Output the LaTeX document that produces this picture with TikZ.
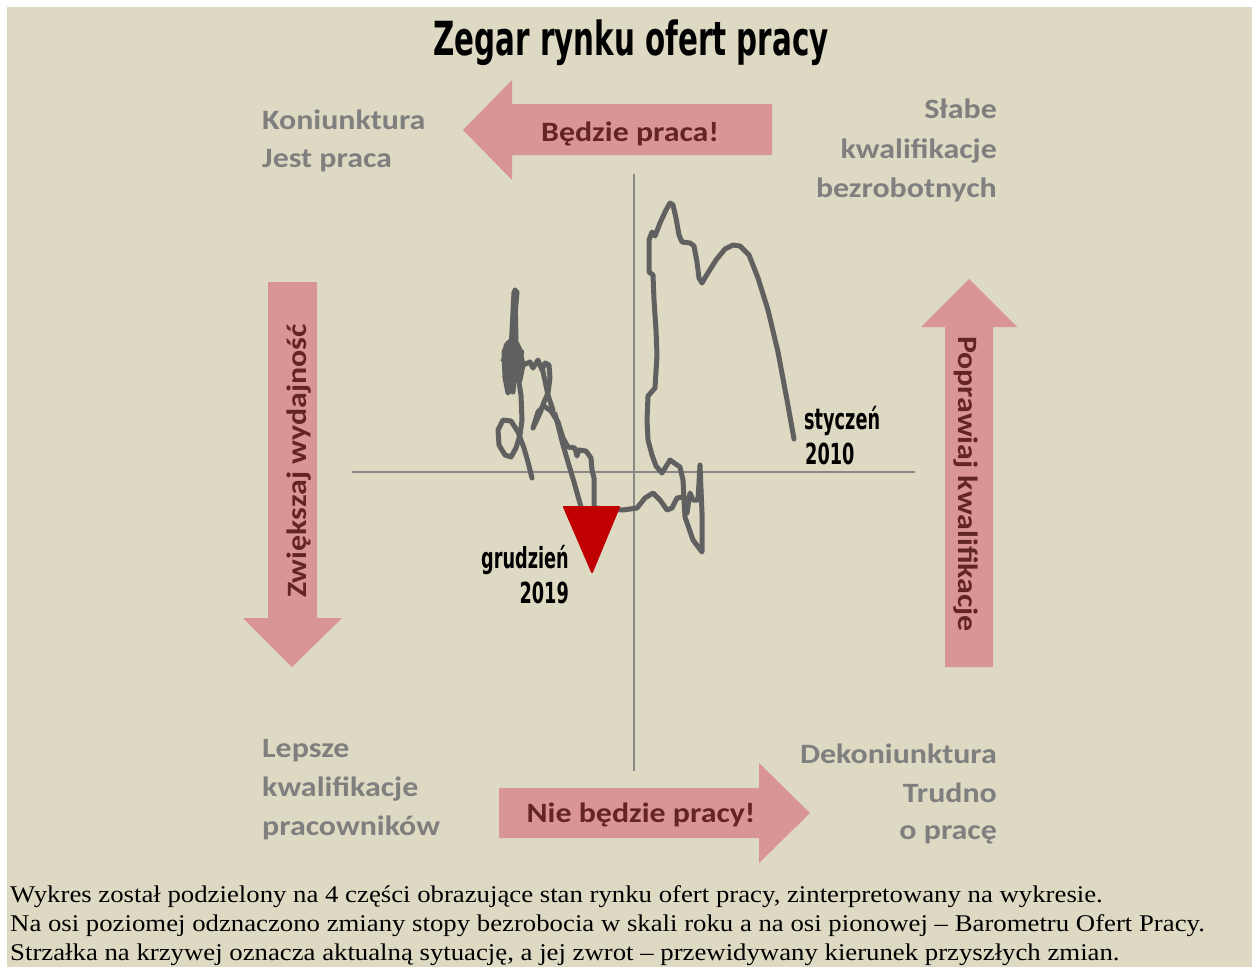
\documentclass[tikz,border=0pt]{standalone}
\usepackage{fontspec}
\setmainfont{Liberation Serif}[FakeStretch=1.115]
\newfontfamily\labelfont{Carlito}[FakeStretch=1.14]
\newfontfamily\condfont{DejaVu Sans}[FakeStretch=0.61]
\newfontfamily\titlefont{DejaVu Sans}[FakeStretch=0.625]
\definecolor{bgbeige}{HTML}{DDD9C3}
\definecolor{pinkarr}{HTML}{D99594}
\definecolor{arrtext}{HTML}{632523}
\definecolor{labgray}{HTML}{7F7F7F}
\definecolor{curvegray}{HTML}{606060}
\definecolor{axisgray}{HTML}{888888}
\definecolor{markred}{HTML}{C00000}
\tikzset{
  lab/.style={font=\labelfont\bfseries\fontsize{28}{34}\selectfont, text=labgray, inner sep=0pt},
  arrtxt/.style={font=\labelfont\bfseries\fontsize{28}{34}\selectfont, text=arrtext, inner sep=0pt},
  cond/.style={font=\condfont\bfseries\fontsize{29}{34}\selectfont, text=black, inner sep=0pt},
  titlestyle/.style={font=\titlefont\bfseries\fontsize{47}{50}\selectfont, text=black, inner sep=0pt},
  captxt/.style={font=\fontsize{24}{29}\selectfont, text=black, inner sep=0pt, anchor=base west},
  arrowfill/.style={fill=pinkarr, draw=none},
  curve/.style={draw=curvegray, line width=5pt, line join=round, line cap=round},
  axisline/.style={draw=axisgray, line width=1.5pt}
}
\begin{document}
\begin{tikzpicture}[x=1pt,y=-1pt]
\useasboundingbox (0,0) rectangle (1252,967);
\fill[white] (0,0) rectangle (1252,967);
\fill[bgbeige] (7,7) rectangle (1252,967);

% title
\node[titlestyle, anchor=base] (title) at (631,55) {Zegar rynku ofert pracy};

% axes
\coordinate (hl) at (352,472);
\coordinate (hr) at (915,472);
\coordinate (vt) at (634,174);
\coordinate (vb) at (634,771);
\draw[axisline] (hl) -- (hr);
\draw[axisline] (vt) -- (vb);

% arrows
\fill[arrowfill] (772,104) -- (512,104) -- (512,80) -- (463,130) -- (512,180) -- (512,155) -- (772,155) -- cycle;
\node[arrtxt, anchor=base] (t1) at (630,141) {Będzie praca!};
\fill[arrowfill] (499,788) -- (759,788) -- (759,763) -- (810,813) -- (759,863) -- (759,838) -- (499,838) -- cycle;
\node[arrtxt, anchor=base] (t2) at (641,822) {Nie będzie pracy!};
\fill[arrowfill] (268,282) -- (317,282) -- (317,618) -- (342,618) -- (292,667) -- (243,618) -- (268,618) -- cycle;
\node[arrtxt, anchor=base, rotate=90] (t3) at (306,461) {Zwiększaj wydajność};
\fill[arrowfill] (945,667) -- (993,667) -- (993,327) -- (1017,327) -- (969,279) -- (921,327) -- (945,327) -- cycle;
\node[arrtxt, anchor=base, rotate=-90] (t4) at (958,484) {Poprawiaj kwalifikacje};

% corner labels
\node[lab, anchor=base west] (a1) at (262,129) {Koniunktura};
\node[lab, anchor=base west] (a2) at (262,167) {Jest praca};
\node[lab, anchor=base east] (b1) at (997,118) {Słabe};
\node[lab, anchor=base east] (b2) at (997,158) {kwalifikacje};
\node[lab, anchor=base east] (b3) at (997,197) {bezrobotnych};
\node[lab, anchor=base west] (c1) at (262,757) {Lepsze};
\node[lab, anchor=base west] (c2) at (262,796) {kwalifikacje};
\node[lab, anchor=base west] (c3) at (262,835) {pracowników};
\node[lab, anchor=base east] (d1) at (997,763) {Dekoniunktura};
\node[lab, anchor=base east] (d2) at (997,802) {Trudno};
\node[lab, anchor=base east] (d3) at (997,839) {o pracę};

% curve
\draw[curve] (794,439) -- (787,400) -- (778,352) -- (768,310) -- (758,278) -- (749,255) -- (740,246) -- (733,245) -- (725,249) -- (716,260) -- (706,276) -- (702,283) -- (699,278) -- (697,262) -- (694,246) -- (690,243) -- (682,242) -- (679,235) -- (676,218) -- (673,205) -- (670,203) -- (666,210) -- (660,223) -- (655,236) -- (652,232) -- (649,240) -- (649,272) -- (653,275) -- (654,300) -- (656,330) -- (657,355) -- (655,388) -- (648,396) -- (647,420) -- (648,440) -- (652,455) -- (656,466) -- (662,473) -- (670,460) -- (680,467) -- (683,480) -- (684,500) -- (685,517) -- (693,540) -- (702,552) -- (702,513) -- (700,465) -- (698,500) -- (693,500) -- (690,493) -- (687,513) -- (684,497) -- (677,498) -- (672,508) -- (667,510) -- (660,500) -- (653,493) -- (645,498) -- (637,508) -- (623,510) -- (594,508) -- (594,478) -- (592,470) -- (591,458) -- (586,451) -- (579,450) -- (577,456) -- (575,448) -- (568,447) -- (563,438) -- (558,422) -- (551,411) -- (544,406) -- (538,412) -- (533,428) -- (540,413) -- (544,402) -- (548,393) -- (550,378) -- (549,365) -- (545,363) -- (542,370) -- (538,360) -- (533,368) -- (530,362) -- (523,365) -- (520,350) -- (516,342) -- (515,290) -- (513,340) -- (508,343) -- (504,352) -- (505,378) -- (508,393) -- (513,382) -- (518,376) -- (521,395) -- (522,420) -- (520,435) -- (516,448) -- (511,457) -- (505,455) -- (499,445) -- (498,430) -- (503,420) -- (511,421) -- (518,432) -- (524,448) -- (528,462) -- (532,478);
\draw[curve] (581,507) -- (574,482) -- (568,462) -- (563,445) -- (558,425) -- (555,414);
\draw[curve] (542,367) -- (548,395) -- (553,410);
\draw[curve] (514,292) -- (511,350) -- (506,345) -- (507,385) -- (511,340) -- (513,392) -- (517,345) -- (520,380) -- (523,365) -- (503,360) -- (522,352) -- (510,372) -- (517,292);

% marker
\filldraw[markred, line width=2pt, line join=round] (564,507) -- (619,507) -- (592,572) -- cycle;

% month labels
\node[cond, anchor=base west] (s1) at (804,429) {styczeń};
\node[cond, anchor=base west] (s2) at (805,464) {2010};
\node[cond, anchor=base east] (g1) at (569,568) {grudzień};
\node[cond, anchor=base east] (g2) at (569,603) {2019};

% caption
\node[captxt] (p1) at (10,902) {Wykres został podzielony na 4 części obrazujące stan rynku ofert pracy, zinterpretowany na wykresie.};
\node[captxt] (p2) at (10,931) {Na osi poziomej odznaczono zmiany stopy bezrobocia w skali roku a na osi pionowej – Barometru Ofert Pracy.};
\node[captxt] (p3) at (10,960) {Strzałka na krzywej oznacza aktualną sytuację, a jej zwrot – przewidywany kierunek przyszłych zmian.};
\end{tikzpicture}
\end{document}
